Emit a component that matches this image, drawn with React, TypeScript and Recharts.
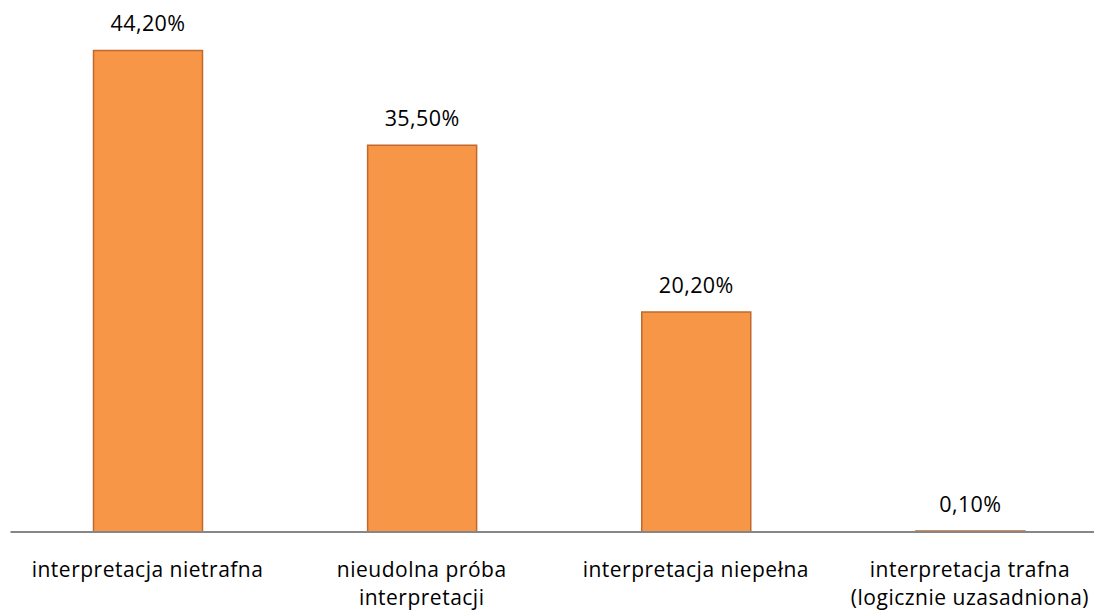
import { Bar, BarChart, LabelList, XAxis, YAxis } from "recharts";

const categories = [
  "interpretacja nietrafna",
  "nieudolna próba\ninterpretacji",
  "interpretacja niepełna",
  "interpretacja trafna\n(logicznie uzasadniona)",
];
const shares = [44.2, 35.5, 20.2, 0.1];

const data = categories.map((name, i) => ({ name, value: shares[i] }));

const FONT = "'Open Sans', 'Noto Sans', sans-serif";

const CategoryTick = (props: any) => {
  const { x, y, payload } = props;
  const lines = String(payload.value).split("\n");
  return (
    <text x={x} y={y} textAnchor="middle" fill="#000" fontSize={21} letterSpacing={0.5} fontFamily={FONT}>
      {lines.map((line, i) => (
        <tspan key={i} x={x} dy={i === 0 ? 37 : 28}>
          {line}
        </tspan>
      ))}
    </text>
  );
};

const PercentLabel = (props: any) => {
  const { x, y, width, value } = props;
  const text = value.toFixed(2).replace(".", ",") + "%";
  return (
    <text x={x + width / 2} y={y - 19} textAnchor="middle" fill="#000" fontSize={21.5} letterSpacing={0.4} fontFamily={FONT}>
      {text}
    </text>
  );
};

export default function App() {
  return (
    <div style={{ position: "absolute", left: 0, top: 0, width: 1094, height: 612, overflow: "hidden", background: "#fff" }}>
      <BarChart
        width={1107}
        height={612}
        data={data}
        margin={{ top: 9, right: 0, bottom: 0, left: 10.5 }}
      >
        <XAxis
          dataKey="name"
          height={80}
          axisLine={{ stroke: "#868686", strokeWidth: 2 }}
          tickLine={false}
          tick={<CategoryTick />}
          interval={0}
        />
        <YAxis hide domain={[0, 48]} />
        <Bar dataKey="value" fill="#F79646" stroke="#C0692B" strokeWidth={1.5} barSize={109} isAnimationActive={false}>
          <LabelList dataKey="value" content={<PercentLabel />} />
        </Bar>
      </BarChart>
    </div>
  );
}
